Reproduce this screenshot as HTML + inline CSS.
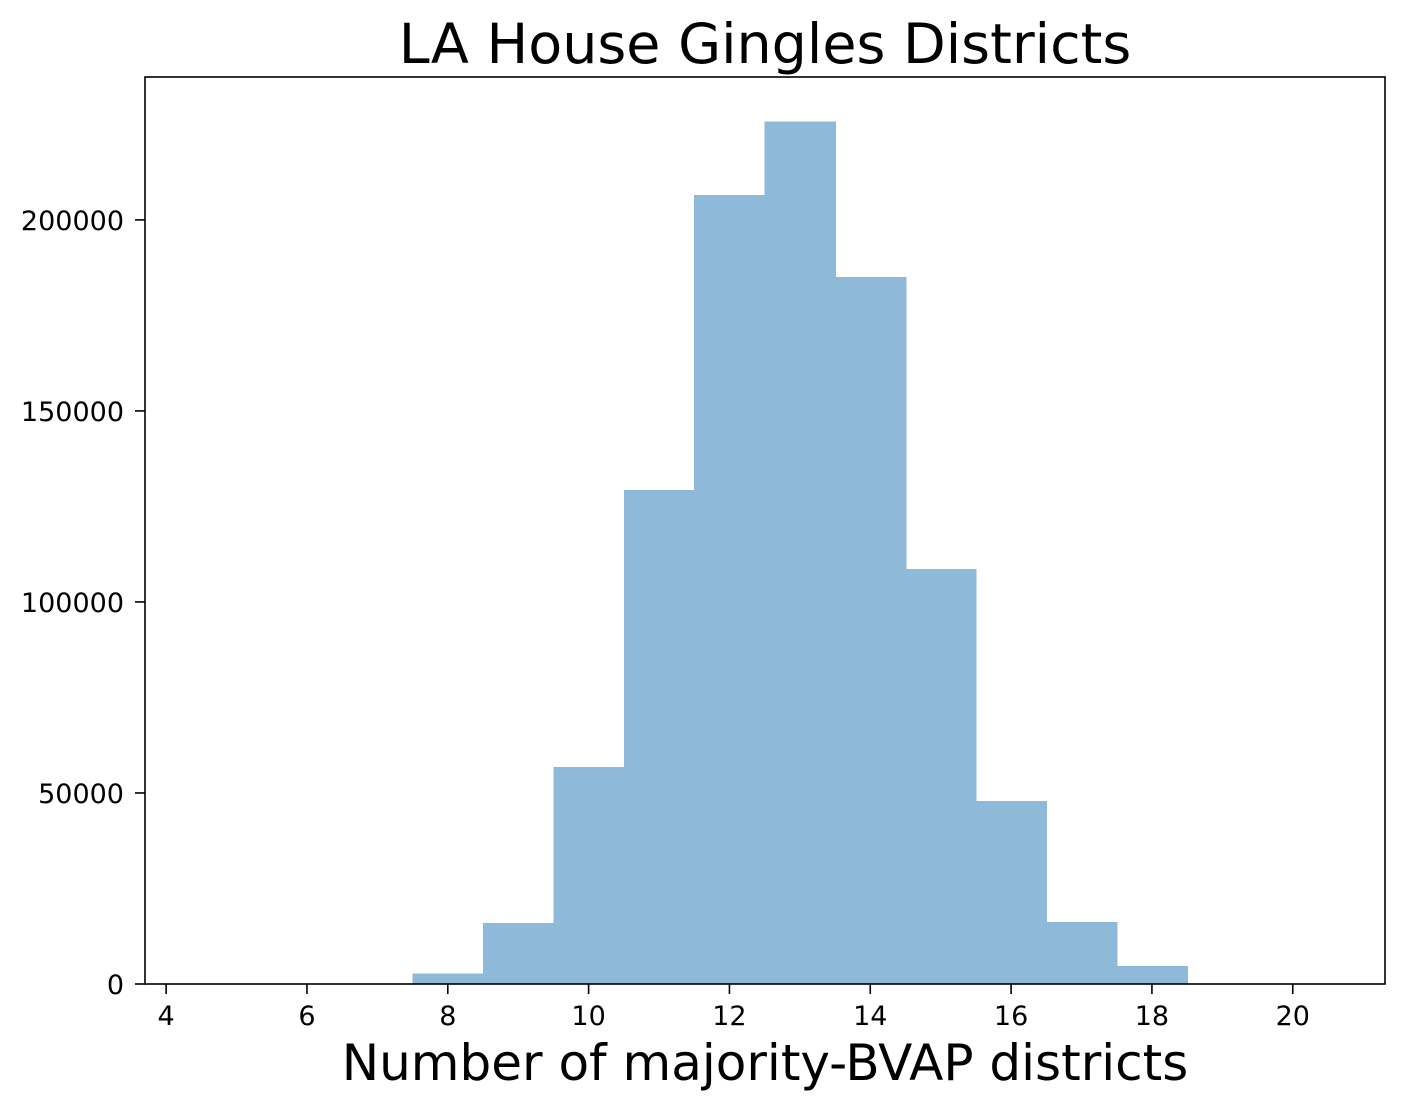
<!DOCTYPE html>
<html><head><meta charset="utf-8"><style>
html,body{margin:0;padding:0;background:#fff;}
svg{display:block;font-family:"DejaVu Sans","Liberation Sans",sans-serif;}
</style></head><body>
<svg id="chart" width="1405" height="1111">
<text x="765" y="63" font-size="55.5" text-anchor="middle">LA House Gingles Districts</text>
<g id="bars" shape-rendering="crispEdges"></g>
<g id="axes"></g>
<text x="765" y="1080" font-size="50" text-anchor="middle">Number of majority-BVAP districts</text>
</svg>
<script>
const binStarts = [7.5, 8.5, 9.5, 10.5, 11.5, 12.5, 13.5, 14.5, 15.5, 16.5, 17.5];
const counts = [2800, 16000, 56800, 129300, 206500, 225700, 185100, 108600, 47900, 16200, 4700];
const xTicks = [4, 6, 8, 10, 12, 14, 16, 18, 20];
const yTicks = [0, 50000, 100000, 150000, 200000];
const binWidth = 1;
const NS = "http://www.w3.org/2000/svg";
const L=145,R=1385,T=77,B=984;
const xMin=3.70, xMax=21.31, yMax=237400;
function sx(v){return L+(v-xMin)/(xMax-xMin)*(R-L);}
function sy(v){return B-v/yMax*(B-T);}
const bars=document.getElementById('bars'), axes=document.getElementById('axes');
function mk(tag,attrs,parent){const e=document.createElementNS(NS,tag);for(const k in attrs)e.setAttribute(k,attrs[k]);parent.appendChild(e);return e;}
binStarts.forEach((s,i)=>{
  const r=mk('rect',{x:sx(s),y:sy(counts[i]),width:sx(s+binWidth)-sx(s)+0.8,height:B-sy(counts[i]),fill:'#8fb9d9'},bars);
  
  
});
const frame=mk('rect',{x:L,y:T,width:R-L,height:B-T,fill:'none',stroke:'#000','stroke-width':1.6},axes);


xTicks.forEach(t=>{
  const x=sx(t);
  mk('line',{x1:x,x2:x,y1:B,y2:B+10,stroke:'#000','stroke-width':1.6},axes);
  const tx=mk('text',{x:x,y:B+41,'font-size':27,'text-anchor':'middle'},axes);
  tx.textContent=t;
  
  
});
yTicks.forEach(t=>{
  const y=sy(t);
  mk('line',{x1:L-10,x2:L,y1:y,y2:y,stroke:'#000','stroke-width':1.6},axes);
  const tx=mk('text',{x:L-21,y:y+10,'font-size':27,'text-anchor':'end'},axes);
  tx.textContent=t;
  
  
});
</script>
</body></html>
